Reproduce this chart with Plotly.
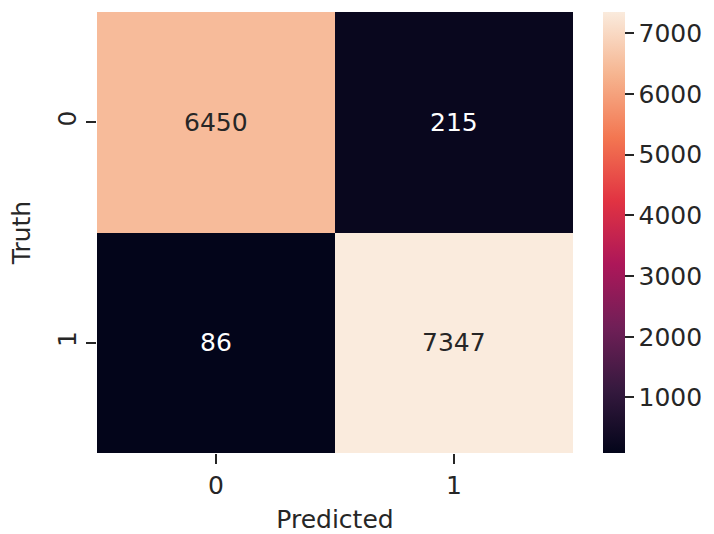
import plotly.graph_objects as go

# Confusion matrix counts: rows = truth, columns = predicted
labels = ["0", "1"]
counts = [[6450, 215],
          [86, 7347]]
cbar_ticks = [1000, 2000, 3000, 4000, 5000, 6000, 7000]

# seaborn "rocket" colormap approximation
rocket = [
    [0.0, "#03051a"],
    [1/7, "#35193e"],
    [2/7, "#701f57"],
    [3/7, "#ad1759"],
    [4/7, "#e13342"],
    [5/7, "#f37651"],
    [6/7, "#f6b48f"],
    [1.0, "#faebdd"],
]

zmin = min(min(r) for r in counts)
zmax = max(max(r) for r in counts)

FONT = "DejaVu Sans"
FS = 25
INK = "#262626"

fig = go.Figure(go.Heatmap(
    z=counts, x=labels, y=labels,
    colorscale=rocket, zmin=zmin, zmax=zmax,
    xgap=0, ygap=0,
    colorbar=dict(
        x=1.042, xanchor="left", xref="paper", xpad=10,
        y=0.5, yanchor="middle", len=1.0, lenmode="fraction", ypad=0,
        thickness=22, outlinewidth=0,
        tickvals=cbar_ticks, ticks="outside", ticklen=9, tickwidth=2,
        tickcolor=INK, tickprefix="\u00a0",
        tickfont=dict(family=FONT, size=FS, color=INK),
    ),
    hoverinfo="skip",
))

# Cell value annotations
mid = (zmin + zmax) / 2
for i, row in enumerate(counts):
    for j, v in enumerate(row):
        fig.add_annotation(
            x=labels[j], y=labels[i], text=str(v), showarrow=False,
            font=dict(family=FONT, size=FS,
                      color=INK if v > mid else "#ffffff"),
        )

fig.update_layout(
    width=714, height=534,
    margin=dict(l=97, r=141, t=12, b=81, autoexpand=False),
    paper_bgcolor="white", plot_bgcolor="white",
    font=dict(family=FONT, color=INK),
    xaxis=dict(
        title=dict(text="Predicted", font=dict(family=FONT, size=FS), standoff=12),
        ticks="outside", ticklen=10, tickwidth=2, tickcolor=INK,
        tickfont=dict(family=FONT, size=FS), showgrid=False, zeroline=False,
        showline=False, automargin=False,
    ),
    yaxis=dict(
        title=dict(text="Truth", font=dict(family=FONT, size=FS), standoff=15),
        autorange="reversed",
        ticks="outside", ticklen=10, tickwidth=2, tickcolor=INK,
        tickangle=-90,
        tickfont=dict(family=FONT, size=FS), showgrid=False, zeroline=False,
        showline=False, automargin=False,
    ),
)

fig.write_html("out.html")
